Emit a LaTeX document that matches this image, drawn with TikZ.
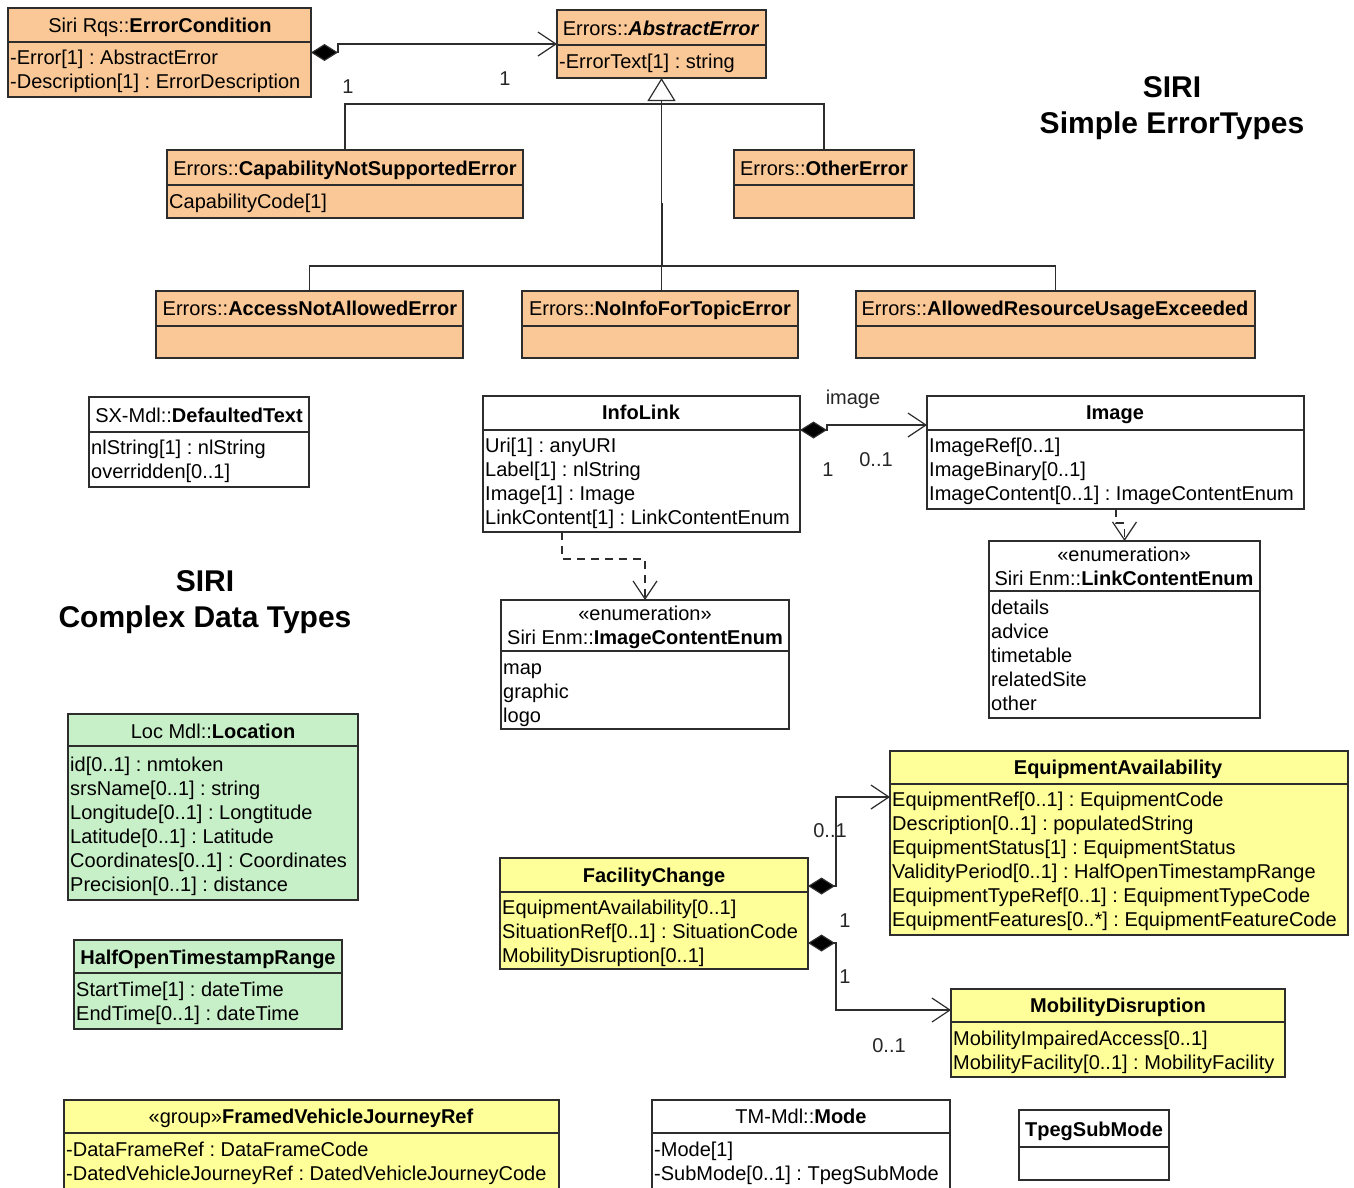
\documentclass[tikz,border=0pt]{standalone}
\usepackage{fontspec}
\setmainfont{Liberation Sans}
\usetikzlibrary{arrows.meta}
\frenchspacing

\definecolor{peach}{RGB}{250,200,150}
\definecolor{mint}{RGB}{200,240,200}
\definecolor{lemon}{RGB}{255,255,153}
\definecolor{edge}{RGB}{45,45,45}

\tikzset{
  x=1pt, y=-1pt,
  box/.style={draw=edge, line width=1.3pt, rectangle, inner sep=0pt, outer sep=0pt},
  divline/.style={draw=edge, line width=1.3pt},
  lbl/.style={inner sep=0pt, anchor=base west, font=\fontsize{20}{24}\selectfont},
  ttl/.style={inner sep=0pt, anchor=base, font=\fontsize{20}{24}\selectfont},
  mult/.style={inner sep=0pt, anchor=base, text=black!85, font=\fontsize{20}{24}\selectfont},
  heading/.style={inner sep=0pt, anchor=base, font=\fontsize{30}{36}\selectfont\bfseries},
  link/.style={draw=edge, line width=1.2pt},
  depend/.style={link, dash pattern=on 8pt off 6pt},
  barb/.tip={Straight Barb[length=18pt,width=24pt,line width=1.2pt]},
  comp/.tip={Diamond[length=27pt,width=17pt,fill=black]},
  gen/.tip={Triangle[open,length=23pt,width=28pt,line width=1.2pt]},
}

% class box: name, left, top, right, bottom, divider, fill
\newcommand\umlclass[7]{%
  \node[box, fill=#7, minimum width={(#4-#2)*1pt}, minimum height={(#5-#3)*1pt}]
    (#1) at ({(#2+#4)/2},{(#3+#5)/2}) {};
  \draw[divline] (#2,#6) -- (#4,#6);
}
% centred header line: name, x, y(centre), text
\newcommand\hdr[4]{\node[ttl] (#1) at (#2,{#3+7}) {#4};}
% attribute line: name, x, y(centre), text
\newcommand\att[4]{\node[lbl] (#1) at (#2,{#3+7}) {#4};}

\begin{document}
\begin{tikzpicture}
\useasboundingbox (0,0) rectangle (1354,1187);
\clip (0,0) rectangle (1354,1187);
\fill[white] (0,0) rectangle (1354,1187);

% ---------- simple error types ----------
\node[heading] (h1) at (1172,97) {SIRI};
\node[heading] (h2) at (1172,133) {Simple ErrorTypes};

\umlclass{ec}{8}{8}{311}{97}{42}{peach}
\hdr{ec-t}{160}{25}{Siri Rqs::\textbf{ErrorCondition}}
\att{ec-a1}{10}{57}{-Error[1] : AbstractError}
\att{ec-a2}{10}{81}{-Description[1] : ErrorDescription}

\umlclass{ae}{557}{10}{766}{78}{45}{peach}
\hdr{ae-t}{661}{28}{Errors::\textbf{\textit{AbstractError}}}
\att{ae-a1}{559}{61}{-ErrorText[1] : string}

\umlclass{cap}{167}{150}{523}{218}{185}{peach}
\hdr{cap-t}{345}{168}{Errors::\textbf{CapabilityNotSupportedError}}
\att{cap-a1}{169}{201}{CapabilityCode[1]}

\umlclass{oth}{734}{150}{914}{218}{185}{peach}
\hdr{oth-t}{824}{168}{Errors::\textbf{OtherError}}

\umlclass{an}{156}{291}{463}{358}{326}{peach}
\hdr{an-t}{310}{308}{Errors::\textbf{AccessNotAllowedError}}

\umlclass{ni}{522}{291}{798}{358}{326}{peach}
\hdr{ni-t}{660}{308}{Errors::\textbf{NoInfoForTopicError}}

\umlclass{ar}{856}{291}{1255}{358}{326}{peach}
\hdr{ar-t}{1055}{308}{Errors::\textbf{AllowedResourceUsageExceeded}}

% composition ErrorCondition -> AbstractError
\draw[link, {comp}-{barb}] (ec.east) -- ++(27,0) |- (ae.west);
\node[mult] (m1) at (348,93) {1};
\node[mult] (m2) at (505,85) {1};

% generalisation tree
\draw[link, {gen}-] (ae.south) -- (ae.south |- ni.north);
\coordinate (trunk) at (662,203);
\draw[draw=edge, line width=2.6pt] (trunk) -- (trunk |- 0,266);
\draw[link] (cap.north) -- ++(0,-46) -| (oth.north);
\draw[link] (an.north) -- ++(0,-25) -| (ar.north);

% ---------- complex data types ----------
\node[heading] (h3) at (205,591) {SIRI};
\node[heading] (h4) at (205,627) {Complex Data Types};

\umlclass{dt}{89}{397}{309}{487}{432}{white}
\hdr{dt-t}{199}{415}{SX-Mdl::\textbf{DefaultedText}}
\att{dt-a1}{91}{447}{nlString[1] : nlString}
\att{dt-a2}{91}{471}{overridden[0..1]}

\umlclass{il}{483}{396}{800}{532}{430}{white}
\hdr{il-t}{641}{412}{\textbf{InfoLink}}
\att{il-a1}{485}{445}{Uri[1] : anyURI}
\att{il-a2}{485}{469}{Label[1] : nlString}
\att{il-a3}{485}{493}{Image[1] : Image}
\att{il-a4}{485}{517}{LinkContent[1] : LinkContentEnum}

\umlclass{img}{927}{396}{1304}{509}{430}{white}
\hdr{img-t}{1115}{412}{\textbf{Image}}
\att{img-a1}{929}{445}{ImageRef[0..1]}
\att{img-a2}{929}{469}{ImageBinary[0..1]}
\att{img-a3}{929}{493}{ImageContent[0..1] : ImageContentEnum}

\umlclass{ice}{501}{600}{789}{729}{651}{white}
\hdr{ice-s}{645}{613}{«enumeration»}
\hdr{ice-t}{645}{637}{Siri Enm::\textbf{ImageContentEnum}}
\att{ice-a1}{503}{667}{map}
\att{ice-a2}{503}{691}{graphic}
\att{ice-a3}{503}{715}{logo}

\umlclass{lce}{989}{541}{1260}{718}{591}{white}
\hdr{lce-s}{1124}{554}{«enumeration»}
\hdr{lce-t}{1124}{578}{Siri Enm::\textbf{LinkContentEnum}}
\att{lce-a1}{991}{607}{details}
\att{lce-a2}{991}{631}{advice}
\att{lce-a3}{991}{655}{timetable}
\att{lce-a4}{991}{679}{relatedSite}
\att{lce-a5}{991}{703}{other}

% InfoLink -> Image composition
\draw[link, {comp}-{barb}] ([yshift=-34pt]il.north east) -- ++(27,0) |- ([yshift=-29pt]img.north west);
\node[mult] (m3) at (853,404) {image};
\node[mult] (m4) at (828,476) {1};
\node[mult] (m5) at (876,466) {0..1};

% dependencies on the enumerations
\draw[depend, -{barb}] ([xshift=79pt]il.south west) -- ++(0,27) -| (ice.north);
\draw[depend, -{barb}] ([xshift=189pt]img.south west) -- ++(0,14) -| (lce.north);

\umlclass{loc}{68}{714}{358}{900}{746}{mint}
\hdr{loc-t}{213}{731}{Loc Mdl::\textbf{Location}}
\att{loc-a1}{70}{764}{id[0..1] : nmtoken}
\att{loc-a2}{70}{788}{srsName[0..1] : string}
\att{loc-a3}{70}{812}{Longitude[0..1] : Longtitude}
\att{loc-a4}{70}{836}{Latitude[0..1] : Latitude}
\att{loc-a5}{70}{860}{Coordinates[0..1] : Coordinates}
\att{loc-a6}{70}{884}{Precision[0..1] : distance}

\umlclass{hot}{74}{940}{342}{1029}{973}{mint}
\hdr{hot-t}{208}{957}{\textbf{HalfOpenTimestampRange}}
\att{hot-a1}{76}{989}{StartTime[1] : dateTime}
\att{hot-a2}{76}{1013}{EndTime[0..1] : dateTime}

\umlclass{ea}{890}{751}{1348}{935}{784}{lemon}
\hdr{ea-t}{1118}{767}{\textbf{EquipmentAvailability}}
\att{ea-a1}{892}{799}{EquipmentRef[0..1] : EquipmentCode}
\att{ea-a2}{892}{823}{Description[0..1] : populatedString}
\att{ea-a3}{892}{847}{EquipmentStatus[1] : EquipmentStatus}
\att{ea-a4}{892}{871}{ValidityPeriod[0..1] : HalfOpenTimestampRange}
\att{ea-a5}{892}{895}{EquipmentTypeRef[0..1] : EquipmentTypeCode}
\att{ea-a6}{892}{919}{EquipmentFeatures[0..*] : EquipmentFeatureCode}

\umlclass{fc}{500}{858}{808}{969}{892}{lemon}
\hdr{fc-t}{654}{875}{\textbf{FacilityChange}}
\att{fc-a1}{502}{907}{EquipmentAvailability[0..1]}
\att{fc-a2}{502}{931}{SituationRef[0..1] : SituationCode}
\att{fc-a3}{502}{955}{MobilityDisruption[0..1]}

\umlclass{md}{951}{989}{1285}{1077}{1022}{lemon}
\hdr{md-t}{1118}{1005}{\textbf{MobilityDisruption}}
\att{md-a1}{953}{1038}{MobilityImpairedAccess[0..1]}
\att{md-a2}{953}{1062}{MobilityFacility[0..1] : MobilityFacility}

% FacilityChange compositions
\draw[link, {comp}-{barb}] ([yshift=-28pt]fc.north east) -- ++(28,0) |- ([yshift=-46pt]ea.north west);
\draw[link, {comp}-{barb}] ([yshift=-85pt]fc.north east) -- ++(28,0) |- ([yshift=-21pt]md.north west);
\node[mult] (m6) at (830,837) {0..1};
\node[mult] (m7) at (845,927) {1};
\node[mult] (m8) at (845,983) {1};
\node[mult] (m9) at (889,1052) {0..1};

% bottom row
\umlclass{fvj}{64}{1100}{559}{1200}{1133}{lemon}
\hdr{fvj-t}{311}{1116}{«group»\textbf{FramedVehicleJourneyRef}}
\att{fvj-a1}{66}{1149}{-DataFrameRef : DataFrameCode}
\att{fvj-a2}{66}{1173}{-DatedVehicleJourneyRef : DatedVehicleJourneyCode}

\umlclass{mode}{652}{1100}{950}{1200}{1133}{white}
\hdr{mode-t}{801}{1116}{TM-Mdl::\textbf{Mode}}
\att{mode-a1}{654}{1149}{-Mode[1]}
\att{mode-a2}{654}{1173}{-SubMode[0..1] : TpegSubMode}

\umlclass{tsm}{1019}{1110}{1169}{1180}{1147}{white}
\hdr{tsm-t}{1094}{1129}{\textbf{TpegSubMode}}
\end{tikzpicture}
\end{document}
